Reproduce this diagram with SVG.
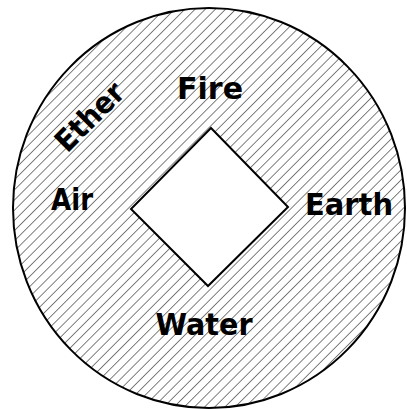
<svg xmlns="http://www.w3.org/2000/svg" width="407" height="410" viewBox="0 0 407 410">
  <style>
    .lbl { font-family: "DejaVu Sans", "Liberation Sans", sans-serif; font-weight: bold; font-size: 30px; fill: #000; text-anchor: middle; }
  </style>
  <defs>
    <pattern id="hatch" patternUnits="userSpaceOnUse" width="7.2" height="7.2" patternTransform="rotate(45)">
      <rect width="7.2" height="7.2" fill="#fff"/>
      <line x1="0" y1="0" x2="0" y2="7.2" stroke="#000" stroke-width="1"/>
    </pattern>
  </defs>
  <rect width="407" height="410" fill="#fff"/>
  <g id="disc">
    <ellipse cx="209" cy="208" rx="196" ry="200" fill="url(#hatch)" stroke="#000" stroke-width="2"/>
  </g>
  <g id="square">
    <polygon points="211,128 288,207 208,286 131,209" fill="#fff" stroke="#000" stroke-width="2"/>
  </g>
  <g id="fire"><text class="lbl" x="210" y="99" textLength="66" lengthAdjust="spacingAndGlyphs">Fire</text></g>
  <g id="ether"><text class="lbl" x="97" y="124" textLength="84" lengthAdjust="spacingAndGlyphs" transform="rotate(-45 97 124)">Ether</text></g>
  <g id="air"><text class="lbl" x="72" y="210" textLength="42" lengthAdjust="spacingAndGlyphs">Air</text></g>
  <g id="earth"><text class="lbl" x="349" y="215" textLength="88" lengthAdjust="spacingAndGlyphs">Earth</text></g>
  <g id="water"><text class="lbl" x="204" y="335" textLength="97" lengthAdjust="spacingAndGlyphs">Water</text></g>
  <g id="connectors"></g>
</svg>
